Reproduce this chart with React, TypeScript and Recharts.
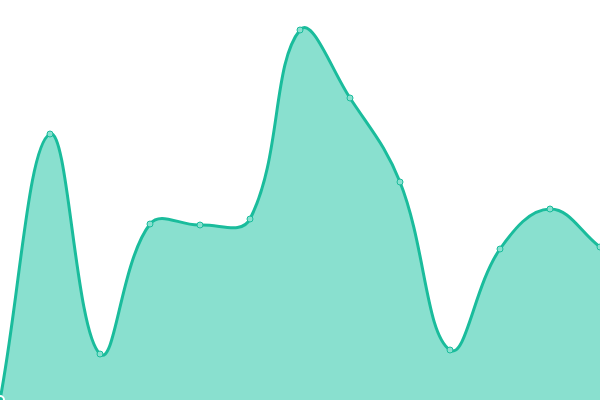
import { AreaChart, Area, XAxis, YAxis } from "recharts";

const labels = ["A", "B", "C", "D", "E", "F", "G", "H", "I", "J", "K", "L", "M"];
const values = [0, 266, 46, 176, 175, 181, 370, 302, 218, 50, 151, 191, 153];

const data = labels.map((name, i) => ({ name, value: values[i] }));

// tension spline (like a cardinal curve that scales by segment length)
const TENSION = 0.4;

function tensionCurve(context: any) {
  let pts: number[][] = [];
  let line = NaN;
  const draw = () => {
    const n = pts.length;
    if (!n) return;
    if (line) context.lineTo(pts[0][0], pts[0][1]);
    else context.moveTo(pts[0][0], pts[0][1]);
    if (n < 2) return;
    const cps = pts.map((cur, i) => {
      const prev = pts[i - 1] || cur;
      const next = pts[i + 1] || cur;
      const d01 = Math.hypot(cur[0] - prev[0], cur[1] - prev[1]);
      const d12 = Math.hypot(next[0] - cur[0], next[1] - cur[1]);
      let s01 = d01 / (d01 + d12);
      let s12 = d12 / (d01 + d12);
      if (isNaN(s01)) s01 = 0;
      if (isNaN(s12)) s12 = 0;
      const fa = TENSION * s01;
      const fb = TENSION * s12;
      return {
        inX: cur[0] - fa * (next[0] - prev[0]),
        inY: cur[1] - fa * (next[1] - prev[1]),
        outX: cur[0] + fb * (next[0] - prev[0]),
        outY: cur[1] + fb * (next[1] - prev[1]),
      };
    });
    for (let i = 1; i < n; i++) {
      context.bezierCurveTo(cps[i - 1].outX, cps[i - 1].outY, cps[i].inX, cps[i].inY, pts[i][0], pts[i][1]);
    }
  };
  return {
    areaStart() {
      line = 0;
    },
    areaEnd() {
      line = NaN;
    },
    lineStart() {
      pts = [];
    },
    point(x: number, y: number) {
      pts.push([+x, +y]);
    },
    lineEnd() {
      draw();
      if (line) context.closePath();
      line = 1 - line;
    },
  };
}

export default function App() {
  return (
    <div style={{ position: "absolute", left: 0, top: 0 }}>
      <AreaChart width={600} height={400} data={data} margin={{ top: 0, right: 0, bottom: 0, left: 0 }}>
        <XAxis dataKey="name" hide />
        <YAxis hide domain={[0, 400]} />
        <Area
          type={tensionCurve as any}
          dataKey="value"
          stroke="#1abc9c"
          strokeWidth={3}
          fill="#89e0cf"
          fillOpacity={1}
          dot={{ r: 3, fill: "#89e0cf", stroke: "#1abc9c", strokeWidth: 1, fillOpacity: 1 }}
          isAnimationActive={false}
        />
      </AreaChart>
    </div>
  );
}
